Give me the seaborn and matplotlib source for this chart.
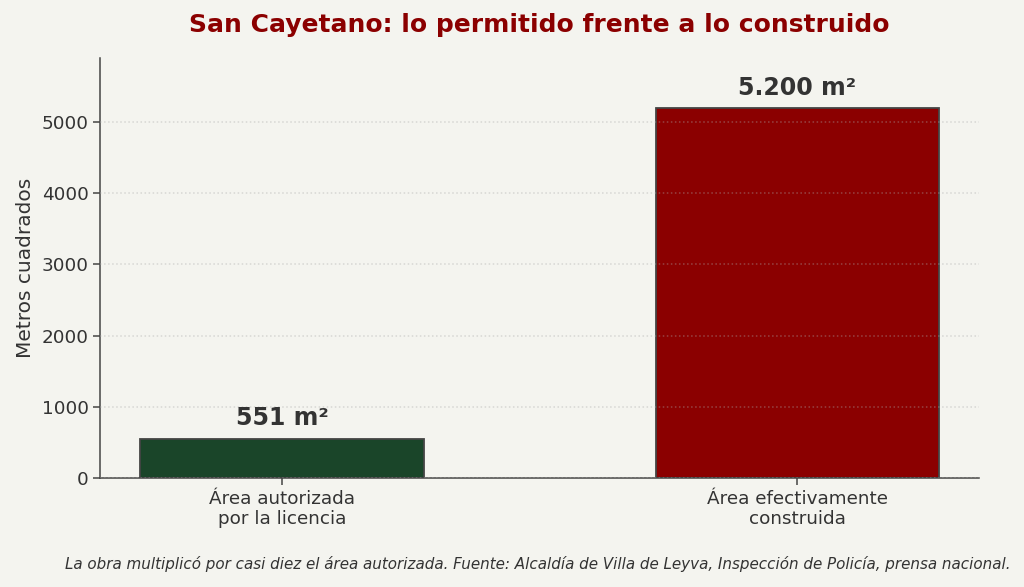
import matplotlib
matplotlib.use("Agg")
import matplotlib.pyplot as plt
import seaborn as sns
import pandas as pd

categories = ["Área autorizada\npor la licencia", "Área efectivamente\nconstruida"]
values = [551, 5200]
labels = ["551 m²", "5.200 m²"]
colors = ["#1a4529", "#8b0000"]

bg = "#f4f4ef"
plt.rcParams["font.family"] = ["DejaVu Sans"]

df = pd.DataFrame({"cat": categories, "val": values})

fig, ax = plt.subplots(figsize=(10.24, 5.87), dpi=100)
fig.patch.set_facecolor(bg)
ax.set_facecolor(bg)

sns.barplot(data=df, x="cat", y="val", hue="cat", palette=colors, legend=False,
            width=0.55, edgecolor="#444444", linewidth=1.3, ax=ax, saturation=1)

ax.set_xlim(-0.3525, 1.3525)
ax.set_ylim(0, 5900)
ax.set_axisbelow(False)
ax.yaxis.grid(True, linestyle=":", color="#aaaaaa", alpha=0.4, linewidth=1.1)
ax.xaxis.grid(False)
for s in ["top", "right"]:
    ax.spines[s].set_visible(False)
for s in ["left", "bottom"]:
    ax.spines[s].set_color("#444444")
    ax.spines[s].set_linewidth(1.1)
ax.tick_params(axis="both", colors="#444444", labelsize=13.2, length=5, width=1.1, left=True, bottom=True)
for t in ax.get_xticklabels() + ax.get_yticklabels():
    t.set_color("#333333")

ax.set_xlabel("")
ax.set_ylabel("Metros cuadrados", fontsize=14.5, color="#333333", labelpad=5)
ax.set_title("San Cayetano: lo permitido frente a lo construido", fontsize=18,
             fontweight="bold", color="#8b0000", pad=19)

for i, (v, lab) in enumerate(zip(values, labels)):
    ax.annotate(lab, (i, v), xytext=(0, 6), textcoords="offset points",
                ha="center", va="bottom", fontsize=17, fontweight="bold", color="#333333")

fig.text(0.987, 0.04, "La obra multiplicó por casi diez el área autorizada. Fuente: Alcaldía de Villa de Leyva, Inspección de Policía, prensa nacional.",
         ha="right", va="center", fontsize=10.9, style="italic", color="#333333")

fig.subplots_adjust(left=0.098, right=0.956, top=0.901, bottom=0.186)
fig.savefig("out.png", dpi=100, facecolor=bg)
